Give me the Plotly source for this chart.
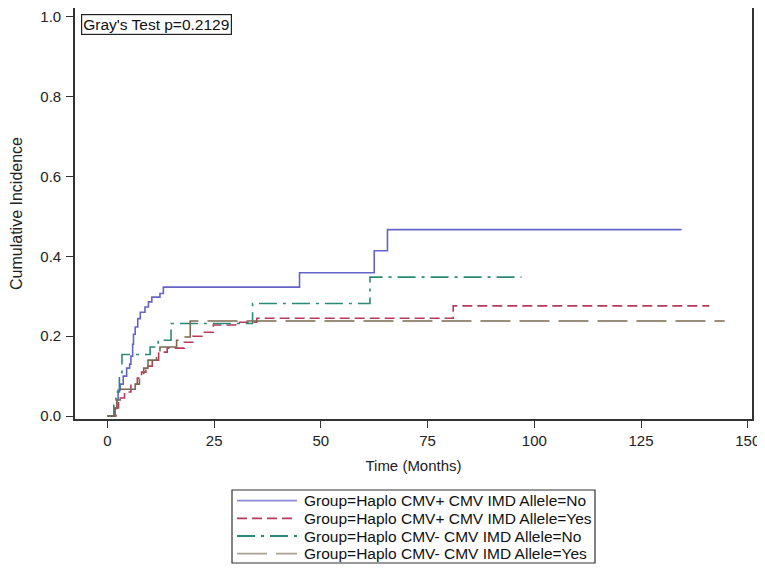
import plotly.graph_objects as go

# cumulative incidence step curves
blue_t = [0, 1.8, 2.2, 2.5, 3.0, 3.7, 4.5, 5.2, 5.5, 5.9, 6.1, 6.5, 7.1, 7.7, 8.8, 9.6, 10.4, 12.3, 13.1, 45, 62.5, 65.6, 134.5]
blue_y = [0, 0.02, 0.04, 0.065, 0.08, 0.10, 0.12, 0.13, 0.15, 0.18, 0.205, 0.223, 0.244, 0.26, 0.273, 0.286, 0.298, 0.307, 0.323, 0.359, 0.414, 0.467, 0.467]

red_t = [0, 2.0, 2.6, 4.0, 5.5, 7.0, 8.0, 9.0, 10.5, 12.0, 14.0, 18.0, 20.0, 22.5, 24.8, 30.0, 35.0, 81.0, 141.0]
red_y = [0, 0.02, 0.045, 0.06, 0.08, 0.095, 0.11, 0.125, 0.14, 0.16, 0.17, 0.185, 0.20, 0.21, 0.228, 0.235, 0.245, 0.276, 0.276]

teal_t = [0, 1.5, 2.0, 2.8, 3.4, 10.0, 11.9, 14.9, 34.0, 61.5, 97.0]
teal_y = [0, 0.03, 0.06, 0.10, 0.154, 0.173, 0.19, 0.232, 0.282, 0.348, 0.348]

brown_t = [0, 1.8, 2.2, 3.0, 6.5, 7.5, 8.5, 9.5, 11.5, 12.3, 16.2, 17.0, 19.4, 144.6]
brown_y = [0, 0.02, 0.04, 0.067, 0.08, 0.10, 0.12, 0.14, 0.157, 0.173, 0.19, 0.198, 0.238, 0.238]

names = ["Group=Haplo CMV+ CMV IMD Allele=No",
         "Group=Haplo CMV+ CMV IMD Allele=Yes",
         "Group=Haplo CMV- CMV IMD Allele=No",
         "Group=Haplo CMV- CMV IMD Allele=Yes"]

x_ticks = [0, 25, 50, 75, 100, 125, 150]
y_ticks = [0.0, 0.2, 0.4, 0.6, 0.8, 1.0]

series = [(blue_t, blue_y, "#6464C8", "solid"),
          (red_t, red_y, "#B83A5A", "10px,5px"),
          (teal_t, teal_y, "#2A8A78", "18px,6px,3px,6px"),
          (brown_t, brown_y, "#7A6A50", "30px,9px")]
legend_cols = ["#8C8CD8", "#B83A5A", "#2A8A78", "#ACA291"]

# the page puts the figure 8px in from the top-left corner of the window
OFF = 8
W, H = 765, 570
# plot frame in window pixels: left 75, right 752, top 8, bottom 419
fx0, fx1, fy0, fy1 = 75, 752, 8, 419
L, T = fx0 - OFF, fy0 - OFF
R, B = W - (fx1 - OFF), H - (fy1 - OFF)
pw, ph = fx1 - fx0, fy1 - fy0

def px_x(p):
    return (p - fx0) / pw

def px_y(p):
    return (fy1 - p) / ph

fig = go.Figure()
for (t, y, col, dash), nm in zip(series, names):
    fig.add_trace(go.Scatter(x=t, y=y, mode="lines", name=nm, showlegend=False,
                             line=dict(color=col, width=1.6, dash=dash, shape="hv")))

axis_style = dict(showline=True, linecolor="#333", linewidth=1.6, mirror=True,
                  ticks="outside", ticklen=7, tickcolor="#333", tickwidth=1.2,
                  showgrid=False, zeroline=False, automargin=False,
                  tickfont=dict(size=15, color="#222"))

fig.update_xaxes(range=[-7.6, 151], tickvals=x_ticks, ticklabelstandoff=0,
                 title=dict(text="Time (Months)", font=dict(size=15, color="#222"), standoff=13),
                 **axis_style)
fig.update_yaxes(range=[-0.0075, 1.0225], tickvals=y_ticks, tickformat=".1f",
                 ticklabelstandoff=2,
                 title=dict(text="Cumulative Incidence", font=dict(size=16, color="#222"), standoff=16),
                 **axis_style)

fig.add_annotation(text="Gray's Test p=0.2129", xref="paper", yref="paper",
                   x=px_x(81), y=px_y(14), xanchor="left", yanchor="top", showarrow=False,
                   font=dict(size=15.5, color="#111"), bordercolor="#222", borderwidth=1.2,
                   borderpad=1, bgcolor="white")

# legend box drawn below the plot
fig.add_shape(type="rect", xref="paper", yref="paper",
              x0=px_x(232), x1=px_x(595), y0=px_y(490), y1=px_y(563),
              line=dict(color="#333", width=1.2))
rows = [500.7, 518.4, 536.0, 553.7]
for (t, y, col, dash), lc, nm, ry in zip(series, legend_cols, names, rows):
    fig.add_shape(type="line", xref="paper", yref="paper",
                  x0=px_x(237), x1=px_x(297), y0=px_y(ry), y1=px_y(ry),
                  line=dict(color=lc, width=1.8, dash=dash))
    fig.add_annotation(text=nm, xref="paper", yref="paper", x=px_x(302), y=px_y(ry),
                       xanchor="left", yanchor="middle", showarrow=False,
                       font=dict(size=15.5, color="#111"))

fig.update_layout(
    width=W, height=H,
    margin=dict(l=L, r=R, t=T, b=B),
    plot_bgcolor="white", paper_bgcolor="white",
    font=dict(family="Liberation Sans, Arial, sans-serif", color="#222"),
)

fig.write_html("out.html")
